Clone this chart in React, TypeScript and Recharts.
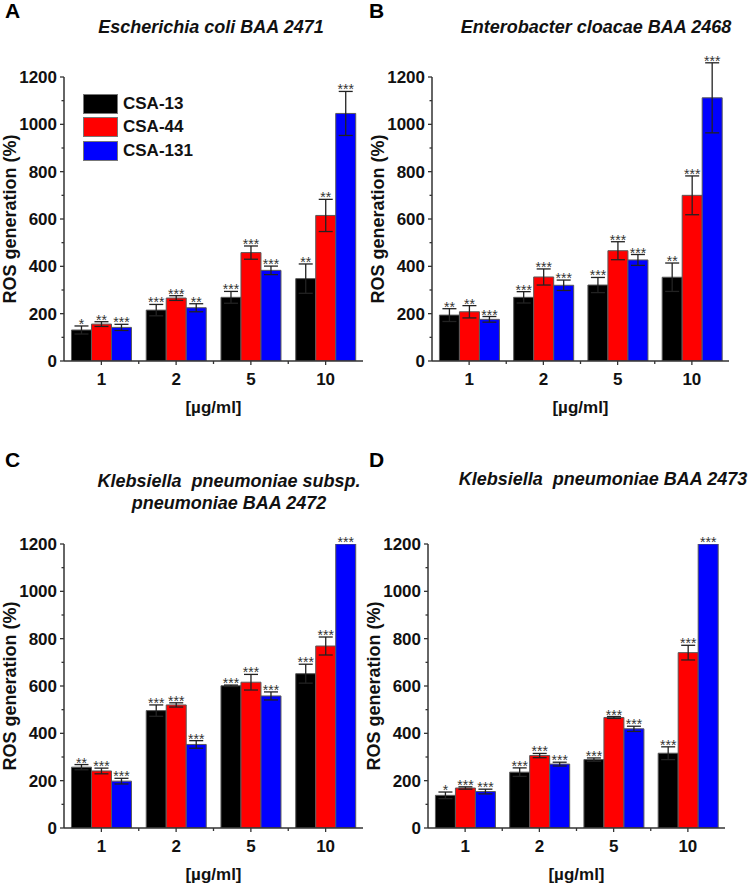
import React from "react";
import { BarChart, Bar, XAxis, YAxis, ErrorBar, LabelList, Legend, Label } from "recharts";

const doses = ["1", "2", "5", "10"];
const seriesNames = ["CSA-13", "CSA-44", "CSA-131"];
const seriesColors = ["#000000", "#ff0000", "#0000ff"];
const yTicks = [0, 100, 200, 300, 400, 500, 600, 700, 800, 900, 1000, 1100, 1200];

// A - Escherichia coli BAA 2471
const ecoliCsa13 = [131, 215, 269, 348];
const ecoliCsa13Err = [17, 24, 25, 62];
const ecoliCsa13Sig = ["*", "***", "***", "**"];
const ecoliCsa44 = [156, 266, 458, 615];
const ecoliCsa44Err = [10, 10, 28, 68];
const ecoliCsa44Sig = ["**", "***", "***", "**"];
const ecoliCsa131 = [142, 225, 383, 1046];
const ecoliCsa131Err = [13, 17, 18, 93];
const ecoliCsa131Sig = ["***", "**", "***", "***"];

// B - Enterobacter cloacae BAA 2468
const cloacaeCsa13 = [194, 269, 321, 354];
const cloacaeCsa13Err = [27, 24, 32, 60];
const cloacaeCsa13Sig = ["**", "***", "***", "**"];
const cloacaeCsa44 = [208, 355, 466, 700];
const cloacaeCsa44Err = [26, 34, 38, 82];
const cloacaeCsa44Sig = ["**", "***", "***", "***"];
const cloacaeCsa131 = [176, 320, 427, 1112];
const cloacaeCsa131Err = [12, 22, 23, 148];
const cloacaeCsa131Sig = ["***", "***", "***", "***"];

// C - Klebsiella pneumoniae subsp. pneumoniae BAA 2472
const kpSubspCsa13 = [257, 496, 601, 652];
const kpSubspCsa13Err = [11, 24, 3, 40];
const kpSubspCsa13Sig = ["**", "***", "***", "***"];
const kpSubspCsa44 = [241, 520, 616, 769];
const kpSubspCsa44Err = [12, 9, 33, 38];
const kpSubspCsa44Sig = ["***", "***", "***", "***"];
const kpSubspCsa131 = [198, 353, 558, 1200];
const kpSubspCsa131Err = [12, 16, 17, 0];
const kpSubspCsa131Sig = ["***", "***", "***", "***"];

// D - Klebsiella pneumoniae BAA 2473
const kpCsa13 = [138, 236, 289, 316];
const kpCsa13Err = [14, 18, 7, 27];
const kpCsa13Sig = ["*", "***", "***", "***"];
const kpCsa44 = [169, 306, 467, 741];
const kpCsa44Err = [5, 9, 4, 31];
const kpCsa44Sig = ["***", "***", "***", "***"];
const kpCsa131 = [154, 270, 419, 1200];
const kpCsa131Err = [10, 8, 11, 0];
const kpCsa131Sig = ["***", "***", "***", "***"];

const FONT = '"Liberation Sans", Arial, sans-serif';
const AXIS = "#333";

type PanelProps = {
  left: number;
  top: number;
  width: number;
  height: number;
  yAxisWidth: number;
  marginTop: number;
  marginRight: number;
  xAxisHeight: number;
  values: number[][];
  errors: number[][];
  marks: string[][];
  showLegend?: boolean;
};

const YTick = (props: any) => {
  const { x, y, payload } = props;
  const major = payload.value % 200 === 0;
  return (
    <g>
      <line x1={x} x2={x - (major ? 4 : 2.5)} y1={y} y2={y} stroke={AXIS} strokeWidth={1.3} />
      {major && (
        <text
          x={x - 7}
          y={y + 6}
          textAnchor="end"
          fontFamily={FONT}
          fontWeight="bold"
          fontSize={17}
          fill="#111"
        >
          {payload.value}
        </text>
      )}
    </g>
  );
};

const makeXTick = (half: number) => (props: any) => {
  const { x, y, payload } = props;
  return (
    <g>
      <line x1={x} x2={x} y1={y} y2={y + 4} stroke={AXIS} strokeWidth={1.3} />
      {payload.index < doses.length - 1 && (
        <line x1={x + half} x2={x + half} y1={y} y2={y + 3} stroke={AXIS} strokeWidth={1.3} />
      )}
      <text
        x={x}
        y={y + 24}
        textAnchor="middle"
        fontFamily={FONT}
        fontWeight="bold"
        fontSize={17}
        fill="#111"
      >
        {payload.value}
      </text>
    </g>
  );
};

const renderYLabel = (props: any) => {
  const vb = props.viewBox;
  const cx = vb.x + vb.width - 54;
  const cy = vb.y + vb.height / 2;
  return (
    <text
      x={cx}
      y={cy}
      transform={`rotate(-90 ${cx} ${cy})`}
      textAnchor="middle"
      dominantBaseline="central"
      fontFamily={FONT}
      fontWeight="bold"
      fontSize={18}
      fill="#111"
    >
      ROS generation (%)
    </text>
  );
};

const renderXLabel = (props: any) => {
  const vb = props.viewBox;
  return (
    <text
      x={vb.x + vb.width / 2}
      y={vb.y + 52}
      textAnchor="middle"
      fontFamily={FONT}
      fontWeight="bold"
      fontSize={17}
      fill="#111"
    >
      [µg/ml]
    </text>
  );
};

const renderLegend = (props: any) => {
  // keep the series order, not recharts' alphabetical sort
  const items = [...(props.payload || [])].sort(
    (a: any, b: any) => seriesNames.indexOf(a.value) - seriesNames.indexOf(b.value)
  );
  return (
    <div>
      {items.map((entry: any) => (
        <div key={entry.value} style={{ display: "flex", alignItems: "center", height: 23.5 }}>
          <span
            style={{
              display: "inline-block",
              width: 35,
              height: 20,
              background: entry.color,
              border: "1px solid #777",
              boxSizing: "border-box",
            }}
          />
          <span
            style={{
              marginLeft: 5,
              fontFamily: FONT,
              fontWeight: "bold",
              fontSize: 17,
              color: "#111",
            }}
          >
            {entry.value}
          </span>
        </div>
      ))}
    </div>
  );
};

function Panel(p: PanelProps) {
  const rows = doses.map((dose, i) => {
    const row: Record<string, any> = { dose };
    seriesNames.forEach((_, k) => {
      row[`s${k}`] = p.values[k][i];
      row[`e${k}`] = p.errors[k][i];
      row[`m${k}`] = p.marks[k][i];
    });
    return row;
  });

  const plotWidth = p.width - p.yAxisWidth - p.marginRight;
  const half = plotWidth / doses.length / 2;

  const renderStars = (k: number) => (props: any) => {
    const { x, y, width, height, index, value } = props;
    const v = rows[index][`s${k}`];
    const err = rows[index][`e${k}`];
    const perUnit = v ? height / v : 0;
    const errTop = y - err * perUnit;
    return (
      <text
        x={x + width / 2}
        y={errTop + 3}
        textAnchor="middle"
        fontFamily={FONT}
        fontSize={14}
        fill="#333"
      >
        {value}
      </text>
    );
  };

  return (
    <div style={{ position: "absolute", left: p.left, top: p.top }}>
      <BarChart
        width={p.width}
        height={p.height}
        data={rows}
        margin={{ top: p.marginTop, right: p.marginRight, bottom: 0, left: 0 }}
        barCategoryGap="10%"
        barGap={0}
      >
        <XAxis
          dataKey="dose"
          height={p.xAxisHeight}
          stroke={AXIS}
          strokeWidth={1.5}
          tickLine={false}
          tickSize={0}
          tickMargin={0}
          tick={makeXTick(half)}
          interval={0}
        >
          <Label content={renderXLabel} />
        </XAxis>
        <YAxis
          width={p.yAxisWidth}
          domain={[0, 1200]}
          ticks={yTicks}
          allowDataOverflow
          interval={0}
          stroke={AXIS}
          strokeWidth={1.5}
          tickLine={false}
          tickSize={0}
          tickMargin={0}
          tick={<YTick />}
        >
          <Label content={renderYLabel} />
        </YAxis>
        {p.showLegend && (
          <Legend
            layout="vertical"
            align="center"
            verticalAlign="middle"
            content={renderLegend}
            wrapperStyle={{ left: 83, top: 92, width: "auto" }}
          />
        )}
        {seriesNames.map((name, k) => (
          <Bar
            key={name}
            dataKey={`s${k}`}
            name={name}
            fill={seriesColors[k]}
            stroke="#5a5a5a"
            strokeWidth={1}
            isAnimationActive={false}
          >
            <ErrorBar dataKey={`e${k}`} width={7} stroke="#222" strokeWidth={1.3} />
            <LabelList dataKey={`m${k}`} content={renderStars(k)} />
          </Bar>
        ))}
      </BarChart>
    </div>
  );
}

const titleStyle: React.CSSProperties = {
  position: "absolute",
  width: 400,
  textAlign: "center",
  fontFamily: FONT,
  fontWeight: "bold",
  fontStyle: "italic",
  fontSize: 18,
  lineHeight: "21.6px",
  color: "#111",
  whiteSpace: "nowrap",
};

const letterStyle: React.CSSProperties = {
  position: "absolute",
  fontFamily: FONT,
  fontWeight: "bold",
  fontSize: 21,
  lineHeight: "21px",
  color: "#000",
};

export default function App() {
  return (
    <div
      style={{
        position: "absolute",
        left: 0,
        top: 0,
        width: 749,
        height: 890,
        background: "#fff",
        overflow: "hidden",
      }}
    >
      <div style={{ ...letterStyle, left: 5, top: 0 }}>A</div>
      <div style={{ ...letterStyle, left: 369, top: 0 }}>B</div>
      <div style={{ ...letterStyle, left: 5, top: 449 }}>C</div>
      <div style={{ ...letterStyle, left: 369, top: 449 }}>D</div>

      <div style={{ ...titleStyle, left: 211 - 200, top: 17 }}>Escherichia coli BAA 2471</div>
      <div style={{ ...titleStyle, left: 596 - 200, top: 17 }}>Enterobacter cloacae BAA 2468</div>
      <div style={{ ...titleStyle, left: 229 - 200, top: 471 }}>
        Klebsiella&nbsp; pneumoniae subsp.
        <br />
        pneumoniae BAA 2472
      </div>
      <div style={{ ...titleStyle, left: 603 - 200, top: 469 }}>Klebsiella&nbsp; pneumoniae BAA 2473</div>

      <Panel
        left={0}
        top={0}
        width={375}
        height={445}
        yAxisWidth={64}
        marginTop={77}
        marginRight={12}
        xAxisHeight={84}
        values={[ecoliCsa13, ecoliCsa44, ecoliCsa131]}
        errors={[ecoliCsa13Err, ecoliCsa44Err, ecoliCsa131Err]}
        marks={[ecoliCsa13Sig, ecoliCsa44Sig, ecoliCsa131Sig]}
        showLegend
      />
      <Panel
        left={355}
        top={0}
        width={394}
        height={445}
        yAxisWidth={77}
        marginTop={77}
        marginRight={20}
        xAxisHeight={84}
        values={[cloacaeCsa13, cloacaeCsa44, cloacaeCsa131]}
        errors={[cloacaeCsa13Err, cloacaeCsa44Err, cloacaeCsa131Err]}
        marks={[cloacaeCsa13Sig, cloacaeCsa44Sig, cloacaeCsa131Sig]}
      />
      <Panel
        left={0}
        top={445}
        width={375}
        height={445}
        yAxisWidth={64}
        marginTop={99}
        marginRight={12}
        xAxisHeight={62}
        values={[kpSubspCsa13, kpSubspCsa44, kpSubspCsa131]}
        errors={[kpSubspCsa13Err, kpSubspCsa44Err, kpSubspCsa131Err]}
        marks={[kpSubspCsa13Sig, kpSubspCsa44Sig, kpSubspCsa131Sig]}
      />
      <Panel
        left={355}
        top={445}
        width={394}
        height={445}
        yAxisWidth={73}
        marginTop={99}
        marginRight={24}
        xAxisHeight={62}
        values={[kpCsa13, kpCsa44, kpCsa131]}
        errors={[kpCsa13Err, kpCsa44Err, kpCsa131Err]}
        marks={[kpCsa13Sig, kpCsa44Sig, kpCsa131Sig]}
      />
    </div>
  );
}
